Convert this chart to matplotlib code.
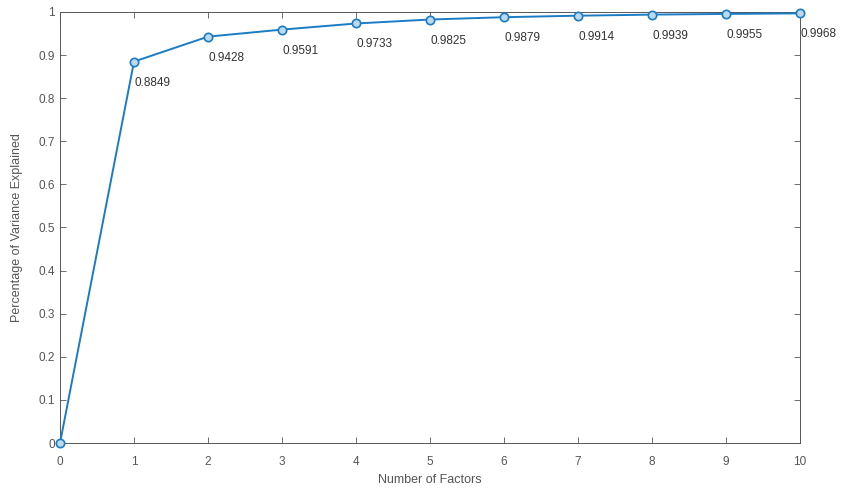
import matplotlib
matplotlib.use("Agg")
import matplotlib.pyplot as plt

factors = [0, 1, 2, 3, 4, 5, 6, 7, 8, 9, 10]
variance = [0, 0.8849, 0.9428, 0.9591, 0.9733, 0.9825, 0.9879, 0.9914, 0.9939, 0.9955, 0.9968]
labels = ["0.8849", "0.9428", "0.9591", "0.9733", "0.9825", "0.9879", "0.9914", "0.9939", "0.9955", "0.9968"]
yticks = [0, 0.1, 0.2, 0.3, 0.4, 0.5, 0.6, 0.7, 0.8, 0.9, 1]
ytick_labels = ["0", "0.1", "0.2", "0.3", "0.4", "0.5", "0.6", "0.7", "0.8", "0.9", "1"]

plt.rcParams['font.family'] = ['Liberation Sans', 'DejaVu Sans']
fig = plt.figure(figsize=(8.5, 4.93), dpi=100)
ax = fig.add_axes([0.0706, 0.1014, 0.8706, 0.8743])
blue = '#1a7cc4'
gray = '#555555'
ax.plot(factors, variance, color=blue, lw=1.4, marker='o', ms=6,
        markerfacecolor='#bcd9ee', markeredgecolor=blue, markeredgewidth=1.2, clip_on=False, zorder=3)
for x, y, t in zip(factors[1:], variance[1:], labels):
    ax.annotate(t, (x, y), xytext=(0, -21), textcoords='offset pixels',
                ha='left', va='center', fontsize=8.5, color='#333333')
ax.set_xlim(0, 10)
ax.set_ylim(0, 1)
ax.set_xticks(factors)
ax.set_yticks(yticks)
ax.set_yticklabels(ytick_labels)
ax.tick_params(direction='in', length=4, width=0.6, colors=gray, labelsize=8.5,
               top=True, right=True, labeltop=False, labelright=False)
ax.tick_params(axis='x', pad=9)
for s in ax.spines.values():
    s.set_color(gray)
    s.set_linewidth(0.7)
ax.set_xlabel('Number of Factors', fontsize=9, color=gray, labelpad=5)
ax.set_ylabel('Percentage of Variance Explained', fontsize=9, color=gray, labelpad=11)
fig.savefig('out.png', dpi=100)
